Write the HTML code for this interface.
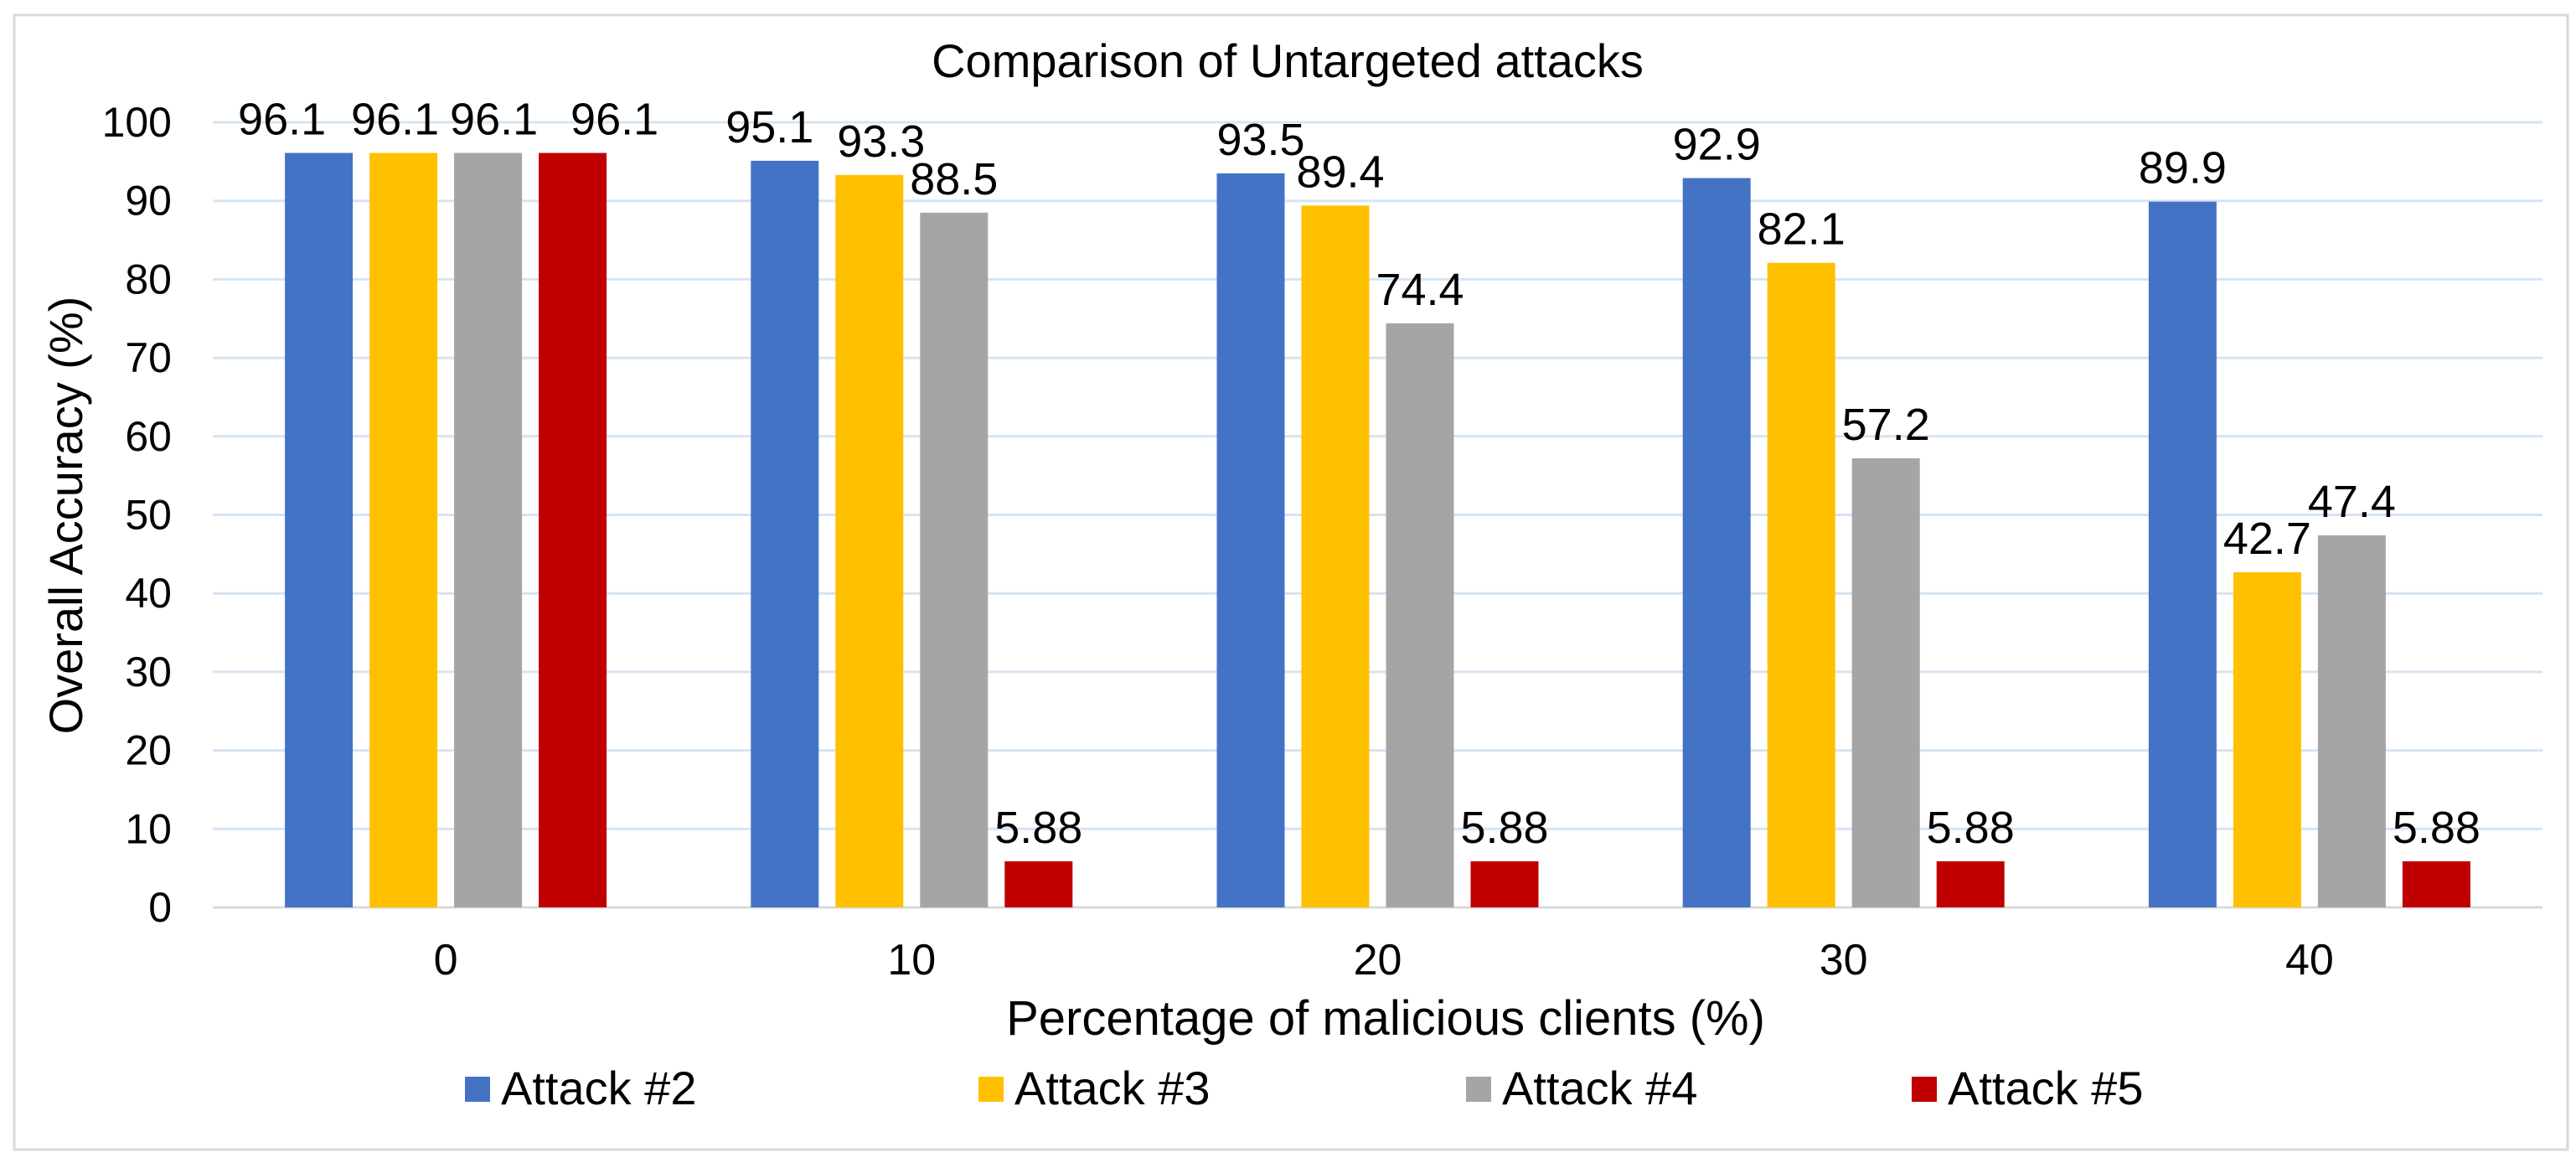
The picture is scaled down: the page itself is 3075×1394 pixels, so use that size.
<!DOCTYPE html>
<html><head><meta charset="utf-8">
<style>
html,body{margin:0;padding:0;background:#fff;}
svg{display:block;font-family:"Liberation Sans",Arial,sans-serif;}
</style></head>
<body>
<svg id="chart" width="3075" height="1394" viewBox="0 0 3075 1394" xmlns="http://www.w3.org/2000/svg">
<rect x="17" y="18" width="3048" height="1354" fill="#fff" stroke="#d9d9d9" stroke-width="3"/>
<text x="1537" y="92" font-size="56" text-anchor="middle" fill="#000">Comparison of Untargeted attacks</text>
<text transform="translate(98,615) rotate(-90)" font-size="56" text-anchor="middle" fill="#000">Overall Accuracy (%)</text>
<text x="1654" y="1235" font-size="58" text-anchor="middle" fill="#000">Percentage of malicious clients (%)</text>
<g id="grid"></g>
<g id="bars"></g>
<g id="labels"></g>
<g id="legend"></g>
</svg>
<script>
const categories = ["0","10","20","30","40"];
const seriesNames = ["Attack #2","Attack #3","Attack #4","Attack #5"];
const attack2 = [96.1, 95.1, 93.5, 92.9, 89.9];
const attack3 = [96.1, 93.3, 89.4, 82.1, 42.7];
const attack4 = [96.1, 88.5, 74.4, 57.2, 47.4];
const attack5 = [96.1, 5.88, 5.88, 5.88, 5.88];
const yTicks = [0,10,20,30,40,50,60,70,80,90,100];

const NS = "http://www.w3.org/2000/svg";
const colors = ["#4472c4","#ffc000","#a5a5a5","#c00000"];
const series = [attack2, attack3, attack4, attack5];
// label x nudges (layout only) per category, per series
const labelNudge = [[-44,-10,7,50],[-18,14,0,0],[12,6,0,0],[0,0,0,0],[0,0,0,0]];
const plotL = 254, plotR = 3035, y0 = 1083, y100 = 146;
const catW = (plotR - plotL) / categories.length;
const barW = 81, barStep = 101;
function yScale(v){ return y0 - (v/100)*(y0 - y100); }
function xCenter(i){ return plotL + catW*(i+0.5); }
function mk(tag, attrs, parent){ const e=document.createElementNS(NS,tag); for(const k in attrs) e.setAttribute(k,attrs[k]); parent.appendChild(e); return e; }

const grid = document.getElementById('grid');
yTicks.forEach(t=>{
  const y = yScale(t);
  const ln = mk('line',{x1:plotL,x2:plotR,y1:y,y2:y,stroke:t===0?'#d9d9d9':'#d6e4f3','stroke-width':3},grid);
  
  
  const tx = mk('text',{x:205,y:y+17,'font-size':50,'text-anchor':'end',fill:'#000'},grid);
  tx.textContent = t;
  
  
});
categories.forEach((c,i)=>{
  const tx = mk('text',{x:xCenter(i),y:1163,'font-size':52,'text-anchor':'middle',fill:'#000'},grid);
  tx.textContent = c;
  
  
});

const bars = document.getElementById('bars');
const labels = document.getElementById('labels');
series.forEach((vals,s)=>{
  vals.forEach((v,i)=>{
    const x = xCenter(i) + (s-1.5)*barStep - barW/2;
    const r = mk('rect',{x:x,y:yScale(v),width:barW,height:y0-yScale(v),fill:colors[s]},bars);
    
    
    const tx = mk('text',{x:x+barW/2+labelNudge[i][s],y:yScale(v)-22,'font-size':54,'text-anchor':'middle',fill:'#000'},labels);
    tx.textContent = String(v);
    
    
  });
});

const legend = document.getElementById('legend');
const legendX = [555, 1168, 1750, 2282];
seriesNames.forEach((n,s)=>{
  const g = mk('g',{},legend);
  
  
  mk('rect',{x:legendX[s],y:1285,width:30,height:30,fill:colors[s]},g);
  const tx = mk('text',{x:legendX[s]+43,y:1318,'font-size':56,fill:'#000'},g);
  tx.textContent = n;
});
</script>
</body></html>
